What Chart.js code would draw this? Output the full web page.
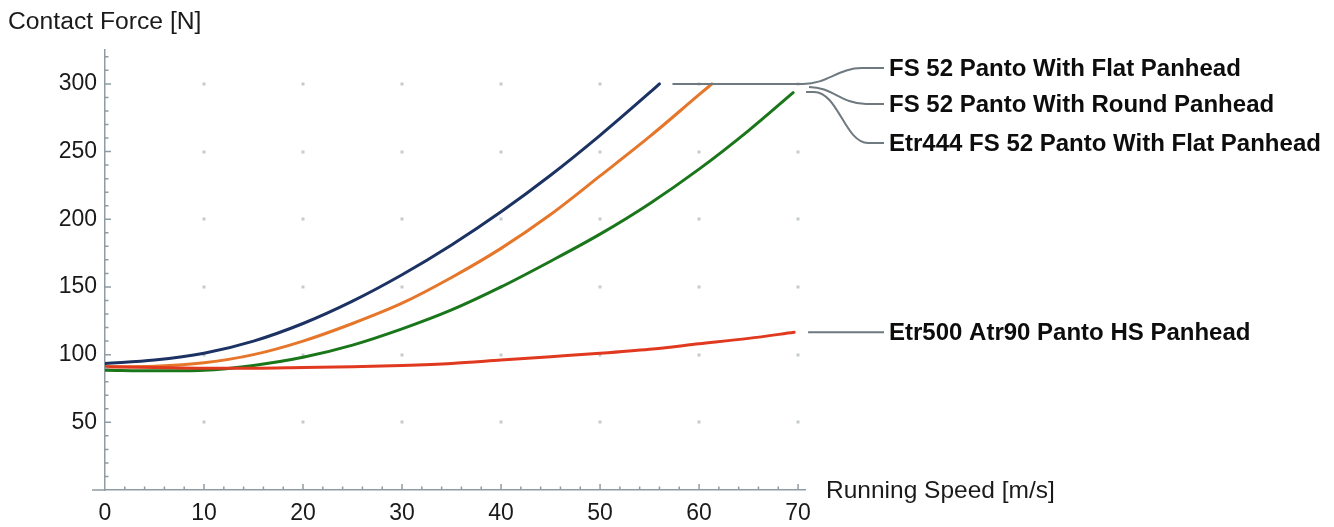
<!DOCTYPE html>
<html>
<head>
<meta charset="utf-8">
<script src="https://cdn.jsdelivr.net/npm/chart.js@4.4.1/dist/chart.umd.min.js"></script>
<style>
  html, body { margin: 0; padding: 0; background: #fff; }
</style>
</head>
<body>
<canvas id="chart" width="1334" height="527"></canvas>
<script>
// running speed [m/s] and contact force [N]
const speedFlat = [0, 5, 10, 15, 20, 25, 30, 35, 40, 45, 50, 55, 56];
const forceFlat = [93.5, 96, 101, 110, 123, 139.5, 159, 181, 205.5, 232.5, 262, 293.5, 300];

const speedRound = [0, 5, 10, 15, 20, 25, 30, 35, 40, 45, 50, 55, 60, 61.3];
const forceRound = [91, 91.5, 94, 100, 110, 123, 138, 157, 178.5, 203.5, 232, 261, 292, 300];

const speedEtr444 = [0, 5, 10, 15, 20, 25, 30, 35, 40, 45, 50, 55, 60, 65, 69.5];
const forceEtr444 = [88.5, 88, 88.5, 92, 98, 107, 119, 133, 150, 169, 189, 211.5, 237, 265.5, 293.5];

const speedEtr500 = [0, 5, 10, 15, 20, 25, 30, 35, 40, 45, 50, 55, 60, 65, 69.6];
const forceEtr500 = [91, 90.5, 90, 90, 90.5, 91, 92, 93.5, 96, 98.5, 101, 104, 108, 112, 116.5];

const seriesNames = [
  'FS 52 Panto With Flat Panhead',
  'FS 52 Panto With Round Panhead',
  'Etr444 FS 52 Panto With Flat Panhead',
  'Etr500 Atr90 Panto HS Panhead'
];
const seriesColors = ['#1b3263', '#e5762a', '#1a761a', '#e0391f'];

const xTitle = 'Running Speed [m/s]';
const yTitle = 'Contact Force [N]';

const FONT = "'Liberation Sans', Arial, sans-serif";
const AXIS_COLOR = '#8f9ca3';

const toPoints = (xs, ys) => xs.map((v, i) => ({ x: v, y: ys[i] }));

const datasets = [
  [speedFlat, forceFlat],
  [speedRound, forceRound],
  [speedEtr444, forceEtr444],
  [speedEtr500, forceEtr500]
].map(([xs, ys], i) => ({
  label: seriesNames[i],
  data: toPoints(xs, ys),
  borderColor: seriesColors[i],
  borderWidth: 3,
  pointRadius: 0,
  fill: false,
  cubicInterpolationMode: 'monotone',
  borderCapStyle: 'round',
  order: i === 3 ? 0 : i + 1
}));

const decorations = {
  id: 'decorations',
  beforeDatasetsDraw(chart) {
    const { ctx, scales: { x, y } } = chart;
    // grey dots at major grid crossings
    ctx.save();
    ctx.fillStyle = '#c4ccd0';
    const xs = x.ticks.filter(t => t.value > 0 && t.value % 10 === 0);
    const ys = y.ticks.filter(t => t.value > 0 && t.value % 50 === 0);
    for (const tx of xs) {
      for (const ty of ys) {
        const px = Math.round(x.getPixelForValue(tx.value));
        const py = Math.round(y.getPixelForValue(ty.value));
        ctx.fillRect(px - 1.5, py - 1.5, 3, 3);
      }
    }
    ctx.restore();
  },
  afterDraw(chart) {
    const { ctx, chartArea, scales: { x, y } } = chart;
    ctx.save();

    // inward tick marks
    ctx.strokeStyle = AXIS_COLOR;
    ctx.lineWidth = 1.5;
    ctx.beginPath();
    for (const t of x.ticks) {
      if (t.value <= 0) continue;
      const px = x.getPixelForValue(t.value);
      const len = t.value % 10 === 0 ? 6 : 3.5;
      ctx.moveTo(px, chartArea.bottom);
      ctx.lineTo(px, chartArea.bottom - len);
    }
    for (const t of y.ticks) {
      if (t.value <= 0) continue;
      const py = y.getPixelForValue(t.value);
      const len = t.value % 50 === 0 ? 6 : 3.5;
      ctx.moveTo(chartArea.left, py);
      ctx.lineTo(chartArea.left + len, py);
    }
    // x axis runs a little past the y axis
    ctx.moveTo(chartArea.left - 13, chartArea.bottom);
    ctx.lineTo(chartArea.left, chartArea.bottom);
    ctx.stroke();

    // x axis title, right of the axis end
    ctx.fillStyle = '#1a1a1a';
    ctx.font = '24.5px ' + FONT;
    ctx.textBaseline = 'middle';
    ctx.textAlign = 'left';
    ctx.fillText(xTitle, chartArea.right + 21, chartArea.bottom + 1);

    // callout lines
    const r = chartArea.right;
    const endX = 884;
    const rows = [68, 104, 143, y.getPixelForValue(forceEtr500[forceEtr500.length - 1])];
    const yTop = y.getPixelForValue(300);
    ctx.strokeStyle = '#6e7a80';
    ctx.lineWidth = 2;
    ctx.beginPath();
    ctx.moveTo(x.getPixelForValue(speedFlat[speedFlat.length - 1]) + 13, yTop);
    ctx.lineTo(r - 2, yTop);
    ctx.bezierCurveTo(r + 23, yTop, r + 33, rows[0], r + 57, rows[0]);
    ctx.lineTo(endX, rows[0]);

    ctx.moveTo(r + 4, yTop + 3);
    ctx.bezierCurveTo(r + 27, yTop + 3, r + 37, rows[1], r + 61, rows[1]);
    ctx.lineTo(endX, rows[1]);

    ctx.moveTo(r + 1, yTop + 8);
    ctx.lineTo(r + 9, yTop + 8);
    ctx.bezierCurveTo(r + 33, yTop + 8, r + 40, rows[2], r + 63, rows[2]);
    ctx.lineTo(endX, rows[2]);

    ctx.moveTo(x.getPixelForValue(speedEtr500[speedEtr500.length - 1]) + 14, rows[3]);
    ctx.lineTo(endX, rows[3]);
    ctx.stroke();

    ctx.fillStyle = '#0d0d0d';
    ctx.font = 'bold 24px ' + FONT;
    seriesNames.forEach((name, i) => ctx.fillText(name, endX + 5, rows[i] + 1));

    ctx.restore();
  }
};

new Chart(document.getElementById('chart'), {
  type: 'line',
  data: { datasets },
  plugins: [decorations],
  options: {
    responsive: false,
    animation: false,
    layout: { padding: { left: 8, right: 529, top: 0, bottom: 0 } },
    plugins: {
      legend: { display: false },
      tooltip: { enabled: false },
      title: {
        display: true,
        text: yTitle,
        align: 'start',
        color: '#1a1a1a',
        font: { family: FONT, size: 24.7, weight: 'normal', lineHeight: 1.2 },
        padding: { top: 7, bottom: 13.4 }
      }
    },
    scales: {
      x: {
        type: 'linear',
        min: 0,
        max: 70.7,
        grid: { display: false, drawTicks: false, tickLength: 0 },
        border: { display: true, color: AXIS_COLOR, width: 1.5 },
        ticks: {
          stepSize: 2,
          includeBounds: false,
          autoSkip: false,
          maxRotation: 0,
          padding: 10,
          color: '#1a1a1a',
          font: { family: FONT, size: 23 },
          callback: v => (Math.abs(v % 10) < 1e-6 ? String(Math.round(v)) : '')
        },
        afterFit: s => { s.height = 37; }
      },
      y: {
        type: 'linear',
        min: 0,
        max: 325,
        grid: { display: false, drawTicks: false, tickLength: 0 },
        border: { display: true, color: AXIS_COLOR, width: 1.5 },
        ticks: {
          stepSize: 10,
          includeBounds: false,
          autoSkip: false,
          padding: 8,
          color: '#1a1a1a',
          font: { family: FONT, size: 23 },
          callback: v => (v > 0 && Math.abs(v % 50) < 1e-6 ? String(Math.round(v)) : '')
        },
        afterFit: s => { s.width = 97; }
      }
    }
  }
});
</script>
</body>
</html>
